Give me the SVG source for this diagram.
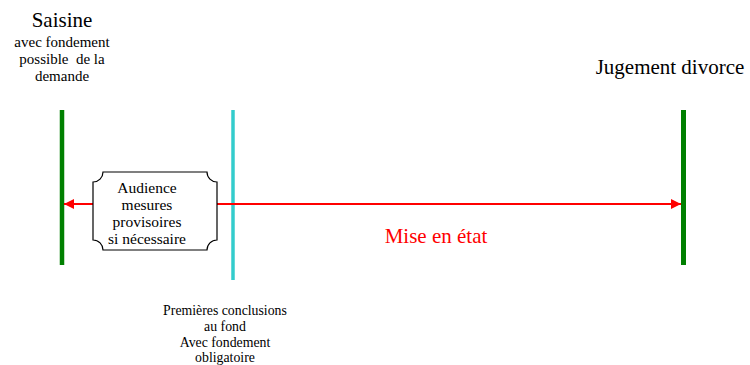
<svg xmlns="http://www.w3.org/2000/svg" width="750" height="365" viewBox="0 0 750 365">
<style>
text{font-family:'Liberation Serif','Times New Roman',serif;fill:#000;text-anchor:middle}
.big{font-size:21px}
.mid{font-size:15px}
.box{font-size:15.5px}
.sm{font-size:13.8px}
.red{fill:#ff0000}
</style>
<defs>
<marker id="ah" viewBox="0 0 10 10" refX="10" refY="5" markerWidth="5" markerHeight="5" orient="auto-start-reverse" markerUnits="strokeWidth">
<path d="M0,0 L10,5 L0,10 z" fill="#ff0000"/>
</marker>
</defs>
<rect width="750" height="365" fill="#fff"/>
<g id="saisine">
<line x1="62" y1="110" x2="62" y2="265" stroke="#008000" stroke-width="4.5"/>
<text x="62" y="27" class="big">Saisine</text>
<text x="62" y="47" class="mid">avec fondement</text>
<text x="62" y="64" class="mid" xml:space="preserve">possible  de la</text>
<text x="62" y="81" class="mid">demande</text>
</g>
<g id="conclusions">
<line x1="233" y1="110" x2="233" y2="280" stroke="#33cccc" stroke-width="3.5"/>
<text x="225" y="315" class="sm">Premières conclusions</text>
<text x="225" y="331" class="sm">au fond</text>
<text x="225" y="347" class="sm">Avec fondement</text>
<text x="225" y="362" class="sm">obligatoire</text>
</g>
<g id="jugement">
<line x1="683.5" y1="110" x2="683.5" y2="265" stroke="#008000" stroke-width="5"/>
<text x="670" y="74" class="big">Jugement divorce</text>
</g>
<g id="connectors">
<line x1="64" y1="204" x2="681" y2="204" stroke="#ff0000" stroke-width="2" marker-start="url(#ah)" marker-end="url(#ah)"/>
</g>
<g id="audience">
<path d="M103,172 H207 A10,10 0 0 0 217,182 V240 A10,10 0 0 0 207,250 H103 A10,10 0 0 0 93,240 V182 A10,10 0 0 0 103,172 Z" fill="#fff" stroke="#000" stroke-width="1.2"/>
<text x="147" y="193" class="box">Audience</text>
<text x="147" y="210" class="box">mesures</text>
<text x="147" y="227" class="box">provisoires</text>
<text x="147" y="244" class="box">si nécessaire</text>
</g>
<g id="mise">
<text x="436" y="243" class="big red">Mise en état</text>
</g>
</svg>
